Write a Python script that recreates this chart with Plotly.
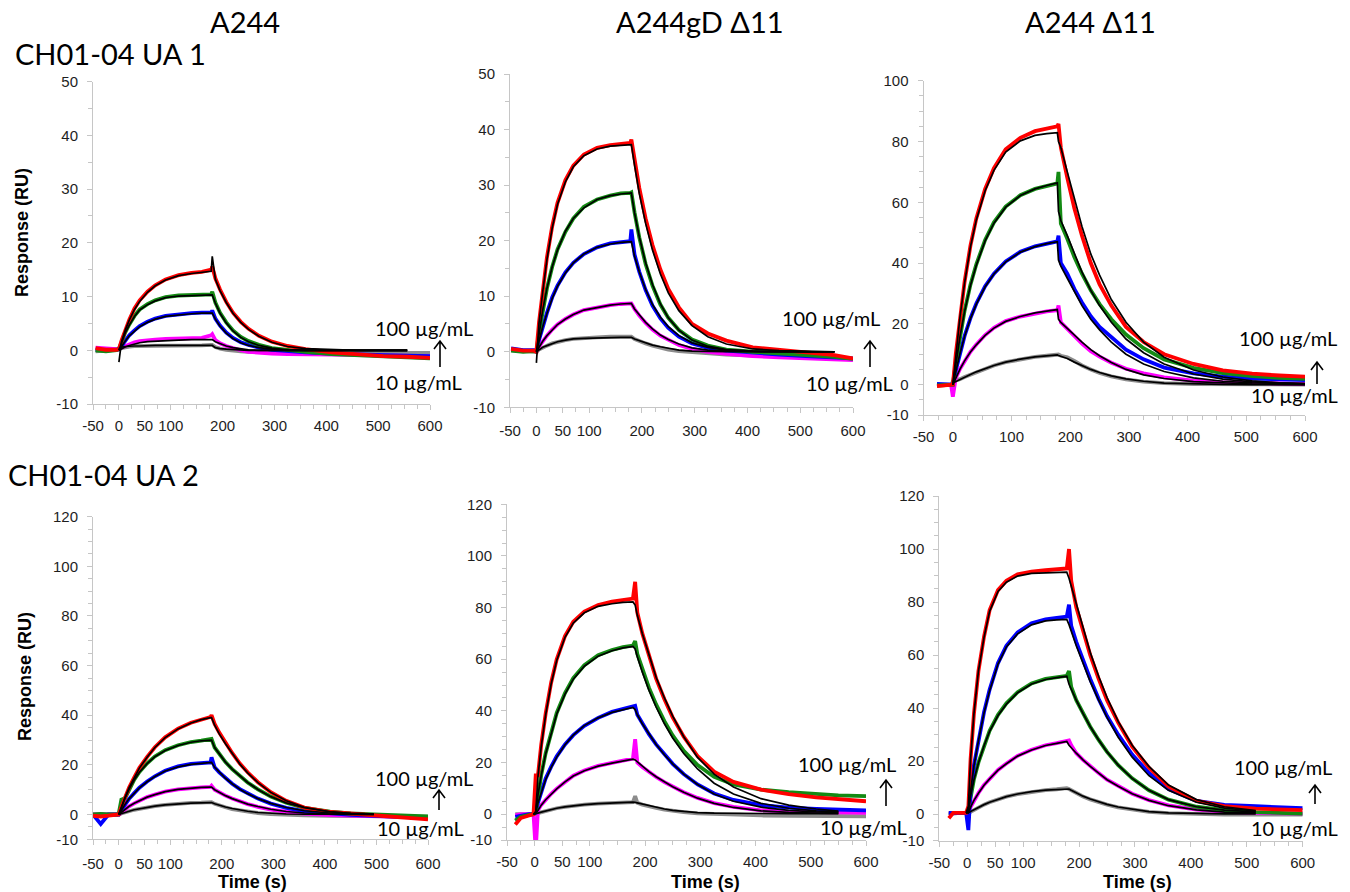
import plotly.graph_objects as go

# ---------------- data ----------------
# Panel 1: A244 / CH01-04 UA 1
P1_T = [-45, -25, -5, 0, 5, 12, 20, 30, 40, 55, 70, 90, 115, 140, 160, 178, 180, 186, 195, 207, 220, 235, 250, 270, 295, 325, 360, 410, 460, 510, 556, 600]
P1_RED = [0.4, 0.1, 0.1, 0.2, 1.8, 3.8, 5.7, 7.8, 9.3, 10.9, 12.1, 13.2, 14.0, 14.4, 14.6, 15.0, 15.6, 13.4, 11.3, 9.0, 7.0, 5.3, 4.0, 2.7, 1.6, 0.8, 0.2, -0.4, -0.8, -1.1, -1.2, -1.4]
P1_GREEN = [0.0, -0.2, 0.0, 0.3, 1.5, 3.3, 4.8, 6.4, 7.6, 8.6, 9.3, 9.9, 10.2, 10.3, 10.4, 10.4, 10.9, 8.9, 7.0, 5.2, 3.7, 2.5, 1.7, 1.0, 0.4, 0.0, -0.3, -0.7, -0.9, -1.1, -1.2, -1.5]
P1_BLUE = [0.1, 0.0, 0.1, 0.2, 0.8, 1.8, 2.8, 3.7, 4.5, 5.3, 5.9, 6.4, 6.7, 6.9, 7.0, 7.0, 7.4, 5.9, 4.6, 3.3, 2.3, 1.5, 1.0, 0.5, 0.1, -0.2, -0.4, -0.6, -0.8, -0.9, -1.0, -1.1]
P1_MAGENTA = [0.5, 0.3, 0.2, 0.3, 0.5, 0.9, 1.2, 1.5, 1.7, 1.9, 2.0, 2.1, 2.2, 2.3, 2.3, 2.8, 3.0, 1.9, 1.3, 0.8, 0.4, 0.0, -0.3, -0.5, -0.6, -0.7, -0.8, -0.8, -0.9, -1.0, -1.0, -1.1]
P1_GRAY = [-0.2, -0.1, 0.0, 0.1, 0.4, 0.6, 0.7, 0.8, 0.8, 0.8, 0.9, 0.9, 0.9, 0.9, 0.9, 1.0, 1.0, 0.6, 0.3, 0.1, -0.1, -0.2, -0.3, -0.3, -0.3, -0.3, -0.3, -0.4, -0.4, -0.5, -0.5, -0.5]
P1_RED_FIT = [None, None, None, -2.2, 1.6, 3.7, 5.6, 7.6, 9.1, 10.8, 12.0, 13.1, 13.9, 14.3, 14.5, 14.7, 17.5, 13.2, 11.1, 8.9, 6.9, 5.2, 3.9, 2.6, 1.5, 0.7, 0.3, 0.1, 0.0, 0.0, 0.0, None]
P1_GREEN_FIT = [None, None, None, 0.0, 1.4, 3.2, 4.7, 6.3, 7.5, 8.5, 9.2, 9.8, 10.1, 10.2, 10.3, 10.3, 10.3, 8.8, 6.9, 5.1, 3.6, 2.4, 1.6, 0.9, 0.4, 0.1, 0.0, 0.0, 0.0, 0.0, 0.0, None]
P1_BLUE_FIT = [None, None, None, 0.0, 0.8, 1.7, 2.7, 3.6, 4.4, 5.2, 5.8, 6.3, 6.6, 6.8, 6.9, 6.9, 6.9, 5.8, 4.5, 3.2, 2.2, 1.4, 0.9, 0.5, 0.2, 0.0, 0.0, 0.0, 0.0, 0.0, 0.0, None]
P1_MAGENTA_FIT = [None, None, None, 0.0, 0.3, 0.6, 0.9, 1.2, 1.4, 1.6, 1.7, 1.8, 1.9, 2.0, 2.0, 2.0, 2.0, 1.6, 1.2, 0.8, 0.5, 0.3, 0.1, 0.0, 0.0, 0.0, 0.0, 0.0, 0.0, 0.0, 0.0, None]
P1_GRAY_FIT = [None, None, None, 0.3, 0.6, 0.7, 0.8, 0.8, 0.8, 0.9, 0.9, 0.9, 0.9, 0.9, 0.9, 0.9, 0.9, 0.5, 0.3, 0.2, 0.1, 0.0, 0.0, 0.0, 0.0, 0.0, 0.0, 0.0, 0.0, 0.0, 0.0, None]

# Panel 2: A244gD delta11 / CH01-04 UA 1
P2_T = [-48, -25, -5, 0, 5, 12, 20, 30, 40, 55, 70, 90, 115, 140, 160, 178, 180, 186, 195, 207, 220, 235, 250, 270, 295, 325, 360, 410, 460, 510, 565, 600]
P2_RED = [0.5, 0.2, 0.2, 0.0, 5.3, 11.0, 17.0, 22.6, 26.8, 30.9, 33.5, 35.5, 36.7, 37.2, 37.4, 37.6, 38.2, 34.5, 29.5, 24.0, 19.2, 14.8, 11.3, 8.0, 5.0, 3.3, 2.0, 0.8, 0.3, -0.1, -0.6, -1.2]
P2_GREEN = [0.2, 0.0, 0.1, 0.0, 3.5, 7.6, 11.4, 15.3, 18.4, 21.6, 24.0, 26.1, 27.4, 28.1, 28.5, 28.6, 28.7, 25.1, 20.6, 15.8, 11.9, 8.5, 6.1, 3.9, 2.2, 1.1, 0.4, 0.0, -0.3, -0.6, -0.9, -1.3]
P2_BLUE = [0.6, 0.3, 0.3, 0.2, 2.1, 4.6, 7.0, 9.8, 11.9, 14.3, 16.0, 17.6, 18.8, 19.5, 19.8, 19.9, 22.0, 17.5, 14.4, 11.1, 8.3, 6.0, 4.3, 2.7, 1.5, 0.7, 0.2, -0.2, -0.5, -0.8, -1.0, -1.2]
P2_MAGENTA = [0.3, 0.1, 0.2, 0.0, 0.9, 1.9, 2.9, 4.0, 4.9, 5.9, 6.7, 7.5, 8.0, 8.4, 8.6, 8.7, 8.7, 7.7, 6.5, 5.2, 4.0, 2.9, 2.1, 1.2, 0.5, 0.0, -0.4, -0.8, -1.0, -1.2, -1.4, -1.5]
P2_GRAY = [0.3, 0.1, 0.0, 0.0, 0.4, 0.8, 1.1, 1.5, 1.8, 2.1, 2.3, 2.5, 2.6, 2.7, 2.7, 2.7, 2.7, 2.3, 1.9, 1.5, 1.1, 0.7, 0.4, 0.1, -0.1, -0.3, -0.5, -0.7, -0.9, -1.1, -1.2, -1.3]
P2_RED_FIT = [None, None, None, -2.0, 5.2, 10.8, 16.6, 22.3, 26.5, 30.6, 33.3, 35.3, 36.5, 37.0, 37.2, 37.3, 37.3, 33.6, 28.5, 23.1, 18.3, 14.0, 10.6, 7.4, 4.7, 2.7, 1.4, 0.5, 0.2, 0.1, 0.0, None]
P2_GREEN_FIT = [None, None, None, 0.0, 3.4, 7.5, 11.4, 15.3, 18.3, 21.7, 24.0, 25.9, 27.4, 28.1, 28.4, 28.6, 28.6, 25.0, 20.7, 16.0, 12.1, 8.6, 6.1, 3.9, 2.1, 1.0, 0.4, 0.1, 0.0, 0.0, 0.0, None]
P2_BLUE_FIT = [None, None, None, 0.0, 2.0, 4.5, 6.9, 9.6, 11.8, 14.2, 16.0, 17.6, 18.8, 19.4, 19.7, 19.8, 19.8, 17.2, 14.4, 11.2, 8.5, 6.2, 4.5, 2.9, 1.6, 0.8, 0.3, 0.1, 0.0, 0.0, 0.0, None]
P2_MAGENTA_FIT = [None, None, None, 0.0, 0.9, 1.9, 2.9, 4.0, 4.9, 5.9, 6.7, 7.5, 8.0, 8.4, 8.6, 8.7, 8.7, 7.7, 6.6, 5.3, 4.1, 3.0, 2.2, 1.4, 0.7, 0.3, 0.1, 0.0, 0.0, 0.0, 0.0, None]
P2_GRAY_FIT = [None, None, None, 0.0, 0.4, 0.8, 1.1, 1.5, 1.8, 2.1, 2.3, 2.4, 2.5, 2.6, 2.6, 2.6, 2.6, 2.3, 2.0, 1.6, 1.2, 0.9, 0.6, 0.3, 0.1, 0.0, 0.0, 0.0, 0.0, 0.0, 0.0, None]

# Panel 3: A244 delta11 / CH01-04 UA 1
P3_T = [-27, -15, -3, 0, 5, 12, 20, 30, 40, 55, 70, 90, 115, 140, 160, 178, 180, 184, 195, 207, 220, 235, 250, 270, 295, 325, 360, 410, 460, 510, 556, 600]
P3_RED = [-0.5, -0.4, -0.3, 0.0, 10.1, 22.2, 33.8, 45.7, 54.7, 64.4, 71.2, 77.4, 81.2, 83.4, 84.4, 85.0, 85.8, 78.0, 68.0, 58.0, 49.0, 40.0, 33.0, 26.0, 19.0, 14.0, 10.0, 6.8, 4.7, 3.6, 3.0, 2.6]
P3_GREEN = [-0.3, -0.2, -0.3, 0.0, 7.1, 15.8, 24.3, 32.9, 39.6, 47.6, 53.4, 58.6, 62.3, 64.4, 65.5, 66.2, 70.0, 53.0, 48.0, 42.0, 36.5, 31.0, 26.5, 21.5, 16.5, 12.0, 8.3, 5.5, 3.8, 2.8, 2.2, 1.9]
P3_BLUE = [0.2, 0.0, 0.1, 0.0, 4.6, 10.3, 16.0, 21.9, 26.7, 32.4, 36.5, 40.5, 43.7, 45.5, 46.5, 47.1, 49.0, 40.0, 36.5, 31.5, 27.0, 22.5, 19.0, 15.5, 11.5, 8.3, 5.6, 3.7, 2.6, 2.0, 1.7, 1.5]
P3_MAGENTA = [-0.2, 0.0, -0.1, -4.0, 2.2, 5.1, 7.9, 10.8, 13.2, 16.3, 18.7, 20.9, 22.4, 23.5, 24.1, 24.5, 26.0, 20.5, 18.5, 16.0, 13.5, 11.0, 9.2, 7.2, 5.2, 3.7, 2.4, 1.3, 0.8, 0.5, 0.3, 0.2]
P3_GRAY = [0.0, 0.1, 0.0, 1.0, 1.2, 1.8, 2.5, 3.3, 4.2, 5.3, 6.3, 7.4, 8.4, 9.1, 9.5, 9.8, 9.9, 9.5, 9.0, 7.8, 6.3, 5.0, 3.8, 2.7, 1.7, 1.0, 0.5, 0.2, 0.1, 0.0, 0.0, 0.0]
P3_RED_FIT = [None, None, None, 0.0, 10.0, 22.0, 33.5, 45.3, 54.2, 63.8, 70.5, 76.5, 80.2, 82.0, 82.6, 82.9, 80.0, 78.0, 70.0, 61.0, 52.0, 43.0, 36.0, 28.0, 20.5, 14.0, 9.0, 4.8, 2.5, 1.2, 0.6, 0.3]
P3_GREEN_FIT = [None, None, None, 0.0, 7.0, 15.6, 24.0, 32.6, 39.3, 47.3, 53.1, 58.4, 62.2, 64.4, 65.5, 66.4, 57.0, 54.0, 49.0, 43.0, 37.0, 31.0, 26.0, 20.5, 15.0, 10.5, 6.8, 3.5, 1.8, 0.9, 0.5, 0.3]
P3_BLUE_FIT = [None, None, None, 0.0, 4.5, 10.1, 15.8, 21.7, 26.5, 32.2, 36.4, 40.4, 43.6, 45.4, 46.4, 47.0, 41.0, 39.0, 35.0, 30.5, 26.0, 21.5, 18.0, 14.0, 10.0, 6.8, 4.3, 2.2, 1.1, 0.6, 0.3, 0.2]
P3_MAGENTA_FIT = [None, None, None, 0.0, 2.2, 5.0, 7.8, 10.7, 13.1, 16.2, 18.6, 20.8, 22.4, 23.6, 24.2, 24.7, 21.5, 20.5, 18.5, 16.2, 14.0, 11.5, 9.5, 7.3, 5.0, 3.2, 2.0, 1.0, 0.5, 0.2, 0.1, 0.0]
P3_GRAY_FIT = [None, None, None, 0.5, 1.0, 1.7, 2.5, 3.3, 4.2, 5.3, 6.3, 7.4, 8.4, 9.1, 9.5, 9.8, 9.6, 9.4, 8.6, 7.4, 6.2, 5.0, 4.0, 2.9, 1.9, 1.1, 0.5, 0.2, 0.1, 0.0, 0.0, 0.0]

# Panel 4: A244 / CH01-04 UA 2
P4_T = [-50, -35, -20, -3, 0, 5, 12, 20, 30, 40, 55, 70, 90, 115, 140, 160, 178, 180, 186, 195, 207, 220, 235, 250, 270, 295, 325, 360, 410, 450, 495, 550, 600]
P4_RED = [-0.5, -0.8, -0.5, -0.3, 0.0, 3.1, 6.9, 10.9, 15.0, 18.8, 23.2, 27.1, 31.1, 34.6, 37.0, 38.3, 39.3, 40.0, 36.5, 33.0, 29.0, 24.8, 20.5, 17.0, 13.0, 9.0, 5.5, 2.8, 1.0, 0.3, -0.3, -1.2, -2.0]
P4_GREEN = [0.0, 0.2, 0.0, 0.0, 0.5, 6.0, 6.5, 10.2, 14.0, 17.1, 20.6, 23.4, 25.9, 27.9, 29.2, 29.8, 30.2, 30.5, 27.0, 24.3, 21.1, 18.3, 15.4, 12.9, 10.1, 7.2, 4.7, 2.7, 1.1, 0.4, 0.0, -0.4, -0.8]
P4_BLUE = [0.0, -3.8, 0.0, 0.0, 0.0, 1.8, 4.0, 6.3, 8.6, 10.8, 13.3, 15.4, 17.6, 19.4, 20.4, 20.9, 21.0, 23.0, 19.0, 17.0, 14.6, 12.4, 10.2, 8.4, 6.4, 4.4, 2.7, 1.4, 0.4, -0.1, -0.6, -1.0, -1.4]
P4_MAGENTA = [0.0, 0.1, 0.0, 0.0, 0.0, 0.9, 2.1, 3.3, 4.5, 5.6, 7.0, 8.0, 9.2, 10.1, 10.7, 10.9, 11.1, 11.6, 10.0, 8.9, 7.6, 6.4, 5.2, 4.2, 3.1, 2.0, 1.1, 0.4, -0.2, -0.5, -0.8, -1.0, -1.2]
P4_GRAY = [0.0, 0.0, 0.1, 0.0, 0.0, 0.4, 0.9, 1.3, 1.9, 2.3, 2.9, 3.4, 3.9, 4.4, 4.7, 4.8, 4.9, 5.0, 4.3, 3.6, 2.9, 2.2, 1.6, 1.1, 0.6, 0.2, -0.1, -0.3, -0.5, -0.6, -0.7, -0.8, -0.9]
P4_RED_FIT = [None, None, None, None, 0.0, 3.0, 6.8, 10.8, 14.9, 18.7, 23.1, 27.0, 31.0, 34.5, 36.9, 38.2, 39.0, 39.0, 36.0, 32.5, 28.5, 24.5, 20.3, 16.8, 12.8, 8.9, 5.5, 2.9, 1.1, 0.5, 0.2, None, None]
P4_GREEN_FIT = [None, None, None, None, 0.0, 3.0, 6.5, 10.1, 13.9, 17.0, 20.5, 23.3, 25.8, 27.8, 29.1, 29.7, 30.0, 30.0, 27.0, 24.3, 21.1, 18.3, 15.4, 12.9, 10.1, 7.2, 4.7, 2.7, 1.1, 0.5, 0.2, None, None]
P4_BLUE_FIT = [None, None, None, None, 0.0, 1.8, 4.0, 6.3, 8.6, 10.7, 13.2, 15.3, 17.5, 19.2, 20.2, 20.7, 21.0, 21.0, 19.0, 17.0, 14.6, 12.4, 10.2, 8.4, 6.4, 4.5, 2.8, 1.5, 0.6, 0.3, 0.1, None, None]
P4_MAGENTA_FIT = [None, None, None, None, 0.0, 0.9, 2.1, 3.3, 4.5, 5.6, 7.0, 8.0, 9.2, 10.1, 10.6, 10.9, 11.0, 11.0, 10.0, 8.9, 7.6, 6.4, 5.2, 4.2, 3.2, 2.1, 1.2, 0.6, 0.2, 0.1, 0.0, None, None]
P4_GRAY_FIT = [None, None, None, None, 0.0, 0.4, 0.9, 1.3, 1.9, 2.3, 2.9, 3.4, 3.9, 4.3, 4.6, 4.7, 4.8, 4.8, 4.3, 3.7, 3.0, 2.4, 1.8, 1.3, 0.8, 0.4, 0.2, 0.1, 0.0, 0.0, 0.0, None, None]

# Panel 5: A244gD delta11 / CH01-04 UA 2
P5_T = [-35, -25, -10, -2, 2, 6, 12, 20, 30, 40, 55, 70, 90, 115, 140, 160, 178, 182, 186, 195, 207, 220, 235, 250, 270, 295, 325, 360, 410, 460, 510, 550, 600]
P5_RED = [-4.0, -1.5, -0.5, 0.0, 15.0, 15.0, 27.0, 39.0, 51.0, 60.0, 69.0, 74.5, 78.5, 81.0, 82.3, 83.0, 83.5, 90.0, 78.0, 70.0, 61.0, 52.5, 44.5, 37.5, 30.0, 22.5, 16.5, 12.5, 9.5, 7.8, 6.5, 5.8, 5.0]
P5_GREEN = [-2.5, -1.0, -0.3, 0.0, 1.0, 7.5, 15.2, 23.6, 32.0, 39.2, 46.9, 52.7, 57.7, 61.6, 63.6, 64.7, 65.3, 67.0, 62.0, 56.0, 49.0, 42.5, 36.0, 30.5, 24.5, 19.0, 14.5, 11.5, 9.5, 8.5, 7.8, 7.3, 7.0]
P5_BLUE = [-1.0, -0.5, 0.0, 0.0, 0.5, 4.4, 8.7, 13.8, 18.4, 22.4, 27.0, 30.6, 34.2, 37.3, 39.6, 40.6, 41.5, 42.0, 38.5, 35.0, 31.0, 27.0, 23.0, 19.5, 15.5, 11.5, 8.0, 5.5, 3.5, 2.5, 2.0, 1.8, 1.5]
P5_MAGENTA = [-0.5, 0.0, 0.0, 0.0, -14.0, 1.5, 3.6, 5.7, 7.9, 9.9, 12.6, 14.9, 16.9, 18.7, 19.9, 20.7, 21.5, 29.0, 20.0, 18.3, 16.3, 14.4, 12.4, 10.6, 8.5, 6.3, 4.3, 2.8, 1.5, 1.0, 0.7, 0.6, 0.5]
P5_GRAY = [0.0, 0.0, 0.0, 0.0, 0.1, 0.4, 0.8, 1.3, 1.8, 2.3, 2.8, 3.3, 3.7, 4.1, 4.4, 4.6, 4.7, 7.0, 4.4, 3.7, 3.0, 2.4, 1.8, 1.3, 0.8, 0.3, 0.0, -0.3, -0.5, -0.6, -0.7, -0.7, -0.8]
P5_RED_FIT = [None, None, None, 0.0, 0.5, 14.5, 26.3, 38.5, 50.5, 59.5, 68.5, 74.0, 78.0, 80.5, 81.5, 82.0, 82.2, 81.0, 77.0, 70.0, 61.5, 53.0, 45.0, 38.0, 30.0, 22.0, 15.5, 10.5, 6.0, 3.5, 2.0, 1.2, None]
P5_GREEN_FIT = [None, None, None, 0.0, 1.0, 7.4, 15.0, 23.3, 31.6, 38.8, 46.5, 52.3, 57.3, 61.2, 63.3, 64.4, 65.0, 64.0, 61.0, 55.0, 48.0, 41.5, 35.0, 29.5, 23.5, 17.5, 12.0, 7.8, 4.2, 2.3, 1.3, 0.9, None]
P5_BLUE_FIT = [None, None, None, 0.0, 0.5, 4.3, 8.5, 13.4, 18.1, 22.1, 26.9, 30.6, 34.3, 37.3, 39.4, 40.5, 41.3, 40.5, 38.5, 35.0, 31.0, 27.0, 23.0, 19.5, 15.5, 11.5, 7.8, 5.0, 2.7, 1.5, 0.9, 0.7, None]
P5_MAGENTA_FIT = [None, None, None, 0.0, 0.3, 1.4, 3.5, 5.6, 7.8, 9.8, 12.5, 14.8, 16.8, 18.6, 19.8, 20.6, 21.3, 21.0, 20.3, 18.5, 16.5, 14.5, 12.5, 10.6, 8.5, 6.2, 4.2, 2.6, 1.3, 0.7, 0.4, 0.3, None]
P5_GRAY_FIT = [None, None, None, 0.0, 0.1, 0.4, 0.8, 1.3, 1.8, 2.3, 2.8, 3.3, 3.7, 4.1, 4.4, 4.6, 4.7, 4.6, 4.4, 3.8, 3.1, 2.5, 2.0, 1.5, 1.0, 0.6, 0.4, 0.3, 0.2, 0.2, 0.2, 0.2, None]

# Panel 6: A244 delta11 / CH01-04 UA 2
P6_T = [-33, -25, -10, -2, 2, 6, 12, 20, 30, 40, 55, 70, 90, 115, 140, 160, 178, 182, 186, 195, 207, 220, 235, 250, 270, 295, 325, 360, 410, 460, 516, 550, 600]
P6_RED = [-1.5, 0.5, 0.5, 0.5, 3.0, 21.0, 38.0, 54.0, 67.0, 77.0, 84.5, 88.0, 90.5, 91.5, 92.0, 92.3, 92.7, 100.0, 88.0, 78.0, 69.0, 60.0, 51.0, 43.0, 34.5, 25.5, 17.5, 10.5, 5.0, 3.0, 2.1, 1.8, 1.5]
P6_BLUE = [0.5, 0.3, 0.5, 0.5, -6.0, 9.0, 18.5, 28.0, 38.5, 47.0, 57.0, 63.5, 68.5, 72.0, 73.5, 74.0, 74.5, 79.0, 71.0, 65.0, 58.0, 51.0, 43.5, 37.0, 30.0, 22.5, 15.5, 9.5, 5.0, 3.5, 3.0, 2.7, 2.3]
P6_GREEN = [0.3, 0.3, 0.5, 0.5, 1.5, 7.0, 13.2, 19.5, 26.0, 31.5, 37.5, 41.8, 46.0, 49.3, 51.0, 51.7, 52.2, 54.0, 48.0, 43.0, 38.0, 33.0, 28.0, 23.5, 18.5, 13.5, 9.0, 5.5, 2.8, 1.5, 0.8, 0.5, 0.2]
P6_MAGENTA = [0.3, 0.5, 0.5, 0.5, 0.5, 2.7, 5.3, 8.0, 11.0, 13.4, 16.7, 19.1, 22.0, 24.3, 26.0, 26.8, 27.5, 27.8, 26.0, 23.0, 20.5, 18.0, 15.5, 13.0, 10.5, 7.7, 5.3, 3.3, 1.7, 0.9, 0.5, 0.3, 0.2]
P6_GRAY = [0.5, 0.5, 0.5, 0.5, 0.4, 0.9, 1.6, 2.6, 3.6, 4.5, 5.6, 6.6, 7.6, 8.5, 9.1, 9.4, 9.8, 9.5, 9.0, 7.9, 6.7, 5.6, 4.5, 3.6, 2.6, 1.7, 0.9, 0.4, 0.0, -0.2, -0.2, -0.2, -0.2]
P6_RED_FIT = [None, None, None, 0.5, 3.0, 21.0, 38.0, 54.0, 66.7, 76.5, 84.0, 87.5, 89.8, 90.8, 91.1, 91.2, 91.3, 89.0, 86.0, 79.0, 70.0, 61.0, 52.0, 44.0, 35.0, 26.0, 18.0, 11.0, 5.5, 2.8, 1.4, None, None]
P6_BLUE_FIT = [None, None, None, 0.5, 1.0, 8.8, 18.2, 27.7, 38.2, 46.6, 56.6, 63.1, 68.0, 71.4, 72.9, 73.3, 73.5, 71.5, 69.0, 63.5, 57.0, 50.0, 43.0, 36.5, 29.0, 21.5, 14.5, 9.0, 4.5, 2.3, 1.2, None, None]
P6_GREEN_FIT = [None, None, None, 0.5, 1.5, 6.8, 13.0, 19.3, 25.8, 31.2, 37.2, 41.5, 45.8, 49.1, 50.8, 51.5, 52.0, 49.0, 47.0, 43.0, 38.0, 33.0, 28.0, 23.5, 18.5, 13.5, 9.0, 5.5, 2.8, 1.5, 0.9, None, None]
P6_MAGENTA_FIT = [None, None, None, 0.5, 0.5, 2.7, 5.2, 7.9, 10.9, 13.3, 16.6, 19.0, 21.9, 24.2, 25.9, 26.7, 27.4, 26.0, 25.0, 23.0, 20.5, 18.0, 15.5, 13.0, 10.5, 7.7, 5.2, 3.2, 1.6, 0.8, 0.5, None, None]
P6_GRAY_FIT = [None, None, None, 0.5, 0.6, 1.0, 1.7, 2.6, 3.6, 4.5, 5.6, 6.6, 7.6, 8.5, 9.1, 9.4, 9.7, 9.5, 9.0, 8.0, 6.8, 5.7, 4.6, 3.7, 2.7, 1.8, 1.0, 0.5, 0.2, 0.1, 0.1, None, None]

COLUMN_TITLES = ["A244", "A244gD \u039411", "A244 \u039411"]
ROW_TITLES = ["CH01-04 UA 1", "CH01-04 UA 2"]
X_TICKS_A = [-50, 0, 50, 100, 200, 300, 400, 500, 600]
X_TICKS_B = [-50, 0, 100, 200, 300, 400, 500, 600]
Y_TICKS_50 = [-10, 0, 10, 20, 30, 40, 50]
Y_TICKS_100 = [-10, 0, 20, 40, 60, 80, 100]
Y_TICKS_120 = [-10, 0, 20, 40, 60, 80, 100, 120]
Y_RANGES = [(-10, 50), (-10, 50), (-10, 100), (-10, 120), (-10, 120), (-10, 120)]
HIGH_LABEL = "100 \u00b5g/mL"
LOW_LABEL = "10 \u00b5g/mL"
X_TITLE = "Time (s)"
Y_TITLE = "Response (RU)"

PANEL_DATA = [
    (P1_T, [P1_GRAY, P1_MAGENTA, P1_BLUE, P1_GREEN, P1_RED], [P1_GRAY_FIT, P1_MAGENTA_FIT, P1_BLUE_FIT, P1_GREEN_FIT, P1_RED_FIT], X_TICKS_A, Y_TICKS_50),
    (P2_T, [P2_GRAY, P2_MAGENTA, P2_BLUE, P2_GREEN, P2_RED], [P2_GRAY_FIT, P2_MAGENTA_FIT, P2_BLUE_FIT, P2_GREEN_FIT, P2_RED_FIT], X_TICKS_A, Y_TICKS_50),
    (P3_T, [P3_GRAY, P3_MAGENTA, P3_BLUE, P3_GREEN, P3_RED], [P3_GRAY_FIT, P3_MAGENTA_FIT, P3_BLUE_FIT, P3_GREEN_FIT, P3_RED_FIT], X_TICKS_B, Y_TICKS_100),
    (P4_T, [P4_GRAY, P4_MAGENTA, P4_BLUE, P4_GREEN, P4_RED], [P4_GRAY_FIT, P4_MAGENTA_FIT, P4_BLUE_FIT, P4_GREEN_FIT, P4_RED_FIT], X_TICKS_A, Y_TICKS_120),
    (P5_T, [P5_GRAY, P5_MAGENTA, P5_BLUE, P5_GREEN, P5_RED], [P5_GRAY_FIT, P5_MAGENTA_FIT, P5_BLUE_FIT, P5_GREEN_FIT, P5_RED_FIT], X_TICKS_A, Y_TICKS_120),
    (P6_T, [P6_GRAY, P6_MAGENTA, P6_GREEN, P6_BLUE, P6_RED], [P6_GRAY_FIT, P6_MAGENTA_FIT, P6_GREEN_FIT, P6_BLUE_FIT, P6_RED_FIT], X_TICKS_A, Y_TICKS_120),
]
DATA_COLORS = [
    ["#8c8c8c", "#ff00ff", "#0000ff", "#138a13", "#ff0000"],
    ["#8c8c8c", "#ff00ff", "#0000ff", "#138a13", "#ff0000"],
    ["#8c8c8c", "#ff00ff", "#0000ff", "#138a13", "#ff0000"],
    ["#8c8c8c", "#ff00ff", "#0000ff", "#138a13", "#ff0000"],
    ["#8c8c8c", "#ff00ff", "#0000ff", "#138a13", "#ff0000"],
    ["#8c8c8c", "#ff00ff", "#138a13", "#0000ff", "#ff0000"],
]

# ---------------- layout geometry (pixels) ----------------
W, H = 1350, 892
def fx(p):
    return p / W
def fy(p):
    return 1 - p / H

# (left, right, top, bottom) pixel boxes of the six plot areas
BOXES = [
    (93, 430, 81.7, 404),
    (510, 853, 74, 407.3),
    (923.5, 1305, 80.7, 415),
    (93, 428, 516.7, 839.3),
    (507, 866, 504.3, 840),
    (939.3, 1302.7, 496, 840.7),
]
X_LABEL_STANDOFF = [3, 5, 3, 6, 3, 3]

fig = go.Figure()
AX_COLOR = "#c6c6c6"
TICK_FONT = dict(family="Liberation Sans, Arial", size=15, color="#1e1e1e")

layout = dict(width=W, height=H, autosize=False, margin=dict(l=0, r=0, t=0, b=0),
              paper_bgcolor="white", plot_bgcolor="white", showlegend=False)

for i, (T, datas, fits, xt, yt) in enumerate(PANEL_DATA):
    for arr in datas + fits:
        assert len(arr) == len(T), (i, len(arr), len(T))
    n = "" if i == 0 else str(i + 1)
    xa, ya = "x" + n, "y" + n
    for arr, col in zip(datas, DATA_COLORS[i]):
        fig.add_trace(go.Scatter(x=T, y=arr, mode="lines", xaxis=xa, yaxis=ya,
                                 line=dict(color=col, width=3.8), hoverinfo="skip"))
    for arr in fits:
        fig.add_trace(go.Scatter(x=T, y=arr, mode="lines", xaxis=xa, yaxis=ya,
                                 line=dict(color="black", width=1.7), hoverinfo="skip",
                                 connectgaps=False))
    l, r, t, b = BOXES[i]
    layout["xaxis" + n] = dict(
        domain=[fx(l), fx(r)], anchor=ya, range=[-50, 600], automargin=False,
        tickmode="array", tickvals=xt, ticktext=[str(v) for v in xt],
        showline=True, linecolor=AX_COLOR, linewidth=1,
        ticks="outside", ticklen=5, tickcolor=AX_COLOR, tickwidth=1,
        minor=dict(tickmode="linear", tick0=0, dtick=25, ticks="outside", ticklen=4, tickcolor=AX_COLOR),
        showgrid=False, zeroline=False, tickfont=TICK_FONT, ticklabelstandoff=X_LABEL_STANDOFF[i],
        fixedrange=True)
    layout["yaxis" + n] = dict(
        domain=[fy(b), fy(t)], anchor=xa, range=list(Y_RANGES[i]), automargin=False,
        tickmode="array", tickvals=yt, ticktext=[str(v) for v in yt],
        showline=True, linecolor=AX_COLOR, linewidth=1,
        ticks="outside", ticklen=5, tickcolor=AX_COLOR, tickwidth=1,
        minor=dict(tickmode="linear", tick0=0, dtick=5, ticks="outside", ticklen=4, tickcolor=AX_COLOR),
        showgrid=False, zeroline=False, tickfont=TICK_FONT, ticklabelstandoff=6, fixedrange=True)

fig.update_layout(**layout)

TITLE_FONT = dict(family="Lato, Open Sans, sans-serif", size=29, color="black")
ROW_FONT = dict(family="Lato, Open Sans, sans-serif", size=29, color="black")
LABEL_FONT = dict(family="Lato, Open Sans, sans-serif", size=20, color="black")
AXT_FONT = dict(family="Liberation Sans, Arial", size=18, color="black")

ann = []
for cx, txt in zip([245, 700, 1090], COLUMN_TITLES):
    ann.append(dict(x=fx(cx), y=fy(21), xref="paper", yref="paper", text=txt, showarrow=False,
                    font=TITLE_FONT, xanchor="center", yanchor="middle"))
for (lx, cy), txt in zip([(13, 54), (6, 474)], ROW_TITLES):
    ann.append(dict(x=fx(lx), y=fy(cy), xref="paper", yref="paper", text=txt, showarrow=False,
                    font=ROW_FONT, xanchor="left", yanchor="middle"))
for cx, cy in [(22, 233), (25, 677)]:
    ann.append(dict(x=fx(cx), y=fy(cy), xref="paper", yref="paper", text="<b>" + Y_TITLE + "</b>",
                    showarrow=False, font=AXT_FONT, textangle=-90, xanchor="center", yanchor="middle"))
for cx in [252, 705, 1137]:
    ann.append(dict(x=fx(cx), y=fy(882), xref="paper", yref="paper", text="<b>" + X_TITLE + "</b>",
                    showarrow=False, font=AXT_FONT, xanchor="center", yanchor="middle"))

# concentration labels and arrows: (high cx, high cy, low cx, low cy, arrow x, arrow top, arrow bottom)
CONC = [
    (424, 328, 418, 382, 440, 341, 367),
    (831, 318, 849, 383, 870, 341, 367),
    (1288, 338, 1294, 395, 1317, 362, 384),
    (424, 778, 421, 828, 439, 790, 810),
    (847, 764, 863, 827, 886, 780, 806),
    (1283, 767, 1294, 828, 1315, 785, 804),
]
shapes = []
for hx, hy, lx, ly, axx, atop, abot in CONC:
    ann.append(dict(x=fx(hx), y=fy(hy), xref="paper", yref="paper", text=HIGH_LABEL, showarrow=False,
                    font=LABEL_FONT, xanchor="center", yanchor="middle"))
    ann.append(dict(x=fx(lx), y=fy(ly), xref="paper", yref="paper", text=LOW_LABEL, showarrow=False,
                    font=LABEL_FONT, xanchor="center", yanchor="middle"))
    path = "M {a},{b} L {a},{c} M {d},{e} L {a},{c} L {f},{e}".format(
        a=fx(axx), b=fy(abot), c=fy(atop), d=fx(axx - 6), e=fy(atop + 8), f=fx(axx + 6))
    shapes.append(dict(type="path", xref="paper", yref="paper", path=path,
                       line=dict(color="black", width=1.6)))

fig.update_layout(annotations=ann, shapes=shapes)
fig.write_html("out.html")
